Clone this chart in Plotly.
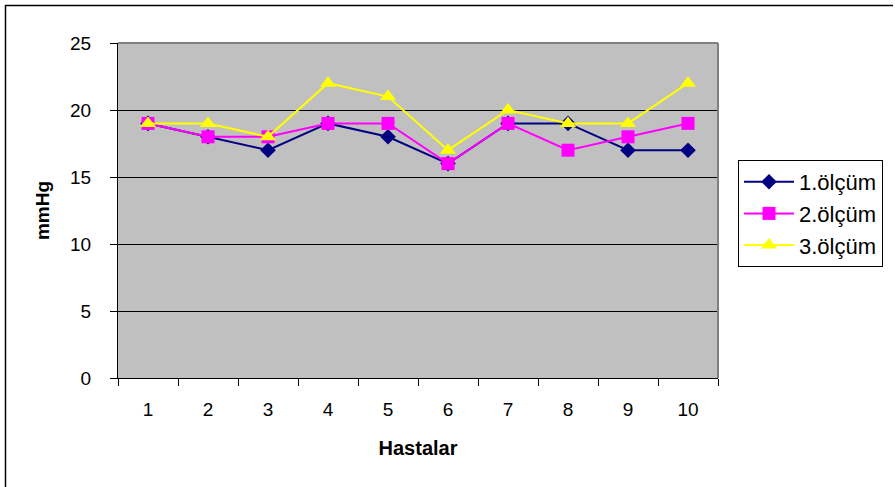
import plotly.graph_objects as go

hastalar = ["1", "2", "3", "4", "5", "6", "7", "8", "9", "10"]
olcum1 = [19, 18, 17, 19, 18, 16, 19, 19, 17, 17]
olcum2 = [19, 18, 18, 19, 19, 16, 19, 17, 18, 19]
olcum3 = [19, 19, 18, 22, 21, 17, 20, 19, 19, 22]
y_ticks = [0, 5, 10, 15, 20, 25]

W, H = 895, 487
L, R, T, B = 118, 718, 43, 378

def px(x):
    return (x - L) / (R - L)

def py(y):
    return (B - y) / (B - T)

FONT = "Liberation Sans, Arial, sans-serif"

fig = go.Figure()
fig.add_trace(go.Scatter(x=hastalar, y=olcum1, name="1.ölçüm", mode="lines+markers",
                         legendgroup="a",
                         line=dict(color="#000080", width=2),
                         marker=dict(symbol="diamond", size=12, color="#000080")))
fig.add_trace(go.Scatter(x=hastalar, y=olcum2, name="2.ölçüm", mode="lines+markers",
                         legendgroup="b",
                         line=dict(color="#FF00FF", width=2),
                         marker=dict(symbol="square", size=13, color="#FF00FF")))
fig.add_trace(go.Scatter(x=hastalar, y=olcum3, name="3.ölçüm", mode="lines+markers",
                         legendgroup="c",
                         line=dict(color="#FFFF00", width=2),
                         marker=dict(symbol="triangle-up", size=14, color="#FFFF00")))

fig.update_layout(
    width=W, height=H,
    margin=dict(l=L, r=W - R, t=T, b=H - B, pad=0),
    paper_bgcolor="white",
    plot_bgcolor="#C0C0C0",
    font=dict(family=FONT, size=19, color="black"),
    showlegend=True,
    legend=dict(x=px(738), y=py(160), xanchor="left", yanchor="top",
                bgcolor="white", bordercolor="black", borderwidth=1,
                font=dict(family=FONT, size=22, color="black"),
                tracegroupgap=1, traceorder="normal", itemwidth=50),
    xaxis=dict(type="category", range=[-0.5, 9.5], tickson="boundaries",
               ticks="outside", ticklen=7,
               tickcolor="black", showline=True, linecolor="black", linewidth=1,
               showgrid=False, ticklabelstandoff=14,
               title=dict(text="<b>Hastalar</b>", standoff=22,
                          font=dict(family=FONT, size=20))),
    yaxis=dict(range=[0, 25], tickvals=y_ticks, ticks="outside", ticklen=7,
               tickcolor="black", showline=True, linecolor="black", linewidth=1,
               showgrid=True, gridcolor="black", gridwidth=1, zeroline=False,
               ticklabelstandoff=15,
               title=dict(text="<b>mmHg</b>", standoff=15,
                          font=dict(family=FONT, size=19))),
    shapes=[
        dict(type="line", xref="paper", yref="paper", x0=0, x1=1, y0=1, y1=1,
             line=dict(color="#808080", width=2), layer="above"),
        dict(type="line", xref="paper", yref="paper", x0=1, x1=1, y0=0, y1=1,
             line=dict(color="#808080", width=2), layer="above"),
        dict(type="line", xref="paper", yref="paper", x0=px(5), x1=px(893),
             y0=py(5.5), y1=py(5.5), line=dict(color="black", width=1.5)),
        dict(type="line", xref="paper", yref="paper", x0=px(5.5), x1=px(5.5),
             y0=py(5), y1=py(487), line=dict(color="black", width=1.5)),
    ],
)

fig.write_html("out.html", config={"displayModeBar": False},
               post_script="document.body.style.margin='0';document.body.style.overflow='hidden';")
